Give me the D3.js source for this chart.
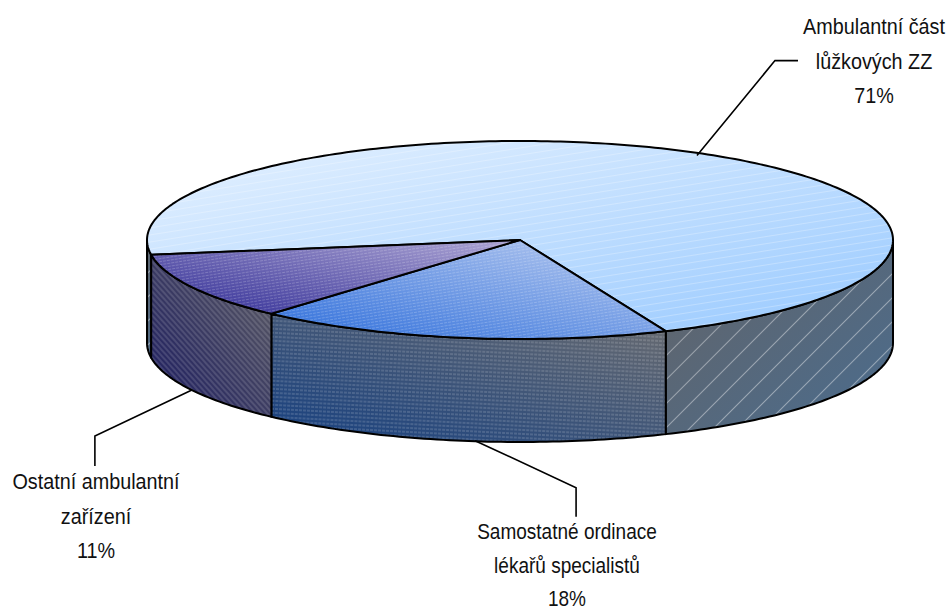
<!DOCTYPE html>
<meta charset='utf-8'>
<title>Ambulantní péče</title>
<style>
  html, body { margin: 0; background: #fff; }
  svg { display: block; }
  text { font-family: 'Liberation Sans', Arial, sans-serif; font-size: 22px; fill: #111; text-anchor: middle; }
  .edge { stroke: #000; stroke-width: 2px; stroke-linejoin: round; fill: none; }
  .leader { stroke: #000; stroke-width: 1.6px; fill: none; }
</style>
<body>
<script src='https://cdn.jsdelivr.net/npm/d3@7'></script>
<script>

  var categories = ['Ambulantní část lůžkových ZZ', 'Samostatné ordinace lékařů specialistů', 'Ostatní ambulantní zařízení']
  var values = [71, 18, 11]
  var labelLines = [
    ['Ambulantní část', 'lůžkových ZZ', '71%'],
    ['Samostatné ordinace', 'lékařů specialistů', '18%'],
    ['Ostatní ambulantní', 'zařízení', '11%']
  ]

  var width = 951, height = 609
  var cx = 520, cy = 240, rx = 373, ry = 99, depth = 103
  var rad = Math.PI / 180
  var rotation = 261.4

  // leader start, elbow and end, relative to the slice's mid point on the rim
  var layout = [
    { start: [-5, 2], bend: [73, -93], end: [96, -93], text: [874, 34], lead: 34.5, squeeze: 0.9, up: true },
    { start: [16, 0], bend: [117, 47], end: [117, 76], text: [567, 539], lead: 33.5, squeeze: 0.865, up: false },
    { start: [0, 0], bend: [-97, 46], end: [-97, 76], text: [96, 489], lead: 34.5, squeeze: 0.9, up: false }
  ]

  var svg = d3.select('body').append('svg').attr('width', width).attr('height', height)
  var defs = svg.append('defs')

  function gradient(id, x1, y1, x2, y2, c1, c2) {
    var g = defs.append('linearGradient').attr('id', id)
      .attr('x1', x1).attr('y1', y1).attr('x2', x2).attr('y2', y2)
    g.append('stop').attr('offset', 0).attr('stop-color', c1)
    g.append('stop').attr('offset', 1).attr('stop-color', c2)
  }

  gradient('top0', 0, 0, 1, 1, '#e6f2ff', '#98c9ff')
  gradient('top1', 0, 1, 1, 0, '#2c6ddb', '#bccdf0')
  gradient('top2', 0, 1, 1, 0, '#2f2b95', '#aea6d4')
  gradient('wall0', 0, 0, 1, 1, '#636468', '#4a6c8e')
  gradient('wall1', 1, 0, 0, 1, '#6a6c70', '#153f80')
  gradient('wall2', 1, 0, 0, 1, '#5e5e64', '#1a1a60')

  function hatch(id, step, angle, op, dash) {
    var p = defs.append('pattern').attr('id', id).attr('patternUnits', 'userSpaceOnUse')
      .attr('width', 12).attr('height', step).attr('patternTransform', 'rotate(' + angle + ')')
    p.append('line').attr('x1', 0).attr('x2', 12).attr('y1', step / 2).attr('y2', step / 2)
      .attr('stroke', '#fff').attr('stroke-width', 1).attr('stroke-opacity', op)
      .attr('stroke-dasharray', dash)
  }

  hatch('hTop0', 7, -9, 0.26, null)
  hatch('hTop1', 3, -9, 0.2, '3 1')
  hatch('hTop2', 3, -9, 0.2, '3 1')
  hatch('hWall0', 17, -45, 0.4, null)
  hatch('hWall1', 4, 3, 0.28, '3 1')
  hatch('hWall2', 4, 48, 0.26, null)

  var pie = d3.pie().sort(null).startAngle(rotation * rad).endAngle((rotation + 360) * rad)
  var slices = pie(values)

  var line = d3.line()

  function rim(a, drop) {
    return [cx + rx * Math.sin(a), cy - ry * Math.cos(a) + (drop || 0)]
  }

  function samples(a0, a1) {
    var n = Math.max(2, Math.ceil((a1 - a0) / rad))
    return d3.range(n + 1).map(function(i) { return a0 + (a1 - a0) * i / n })
  }

  function topPath(d) {
    return line([[cx, cy]].concat(samples(d.startAngle, d.endAngle).map(function(a) { return rim(a) }))) + 'Z'
  }

  // only the part of the rim facing the viewer gets a wall
  function wallParts(d) {
    var parts = []
    ;[[90, 270], [450, 630]].forEach(function(f) {
      var a0 = Math.max(d.startAngle, f[0] * rad), a1 = Math.min(d.endAngle, f[1] * rad)
      if (a1 > a0) parts.push([a0, a1])
    })
    return parts
  }

  function wallPath(p) {
    var as = samples(p[0], p[1])
    return line(as.map(function(a) { return rim(a) })
      .concat(as.slice().reverse().map(function(a) { return rim(a, depth) }))) + 'Z'
  }

  /* ------- WALLS -------*/
  var walls = svg.append('g')
  slices.forEach(function(d) {
    wallParts(d).forEach(function(p) {
      var path = wallPath(p)
      walls.append('path').attr('d', path).attr('fill', 'url(#wall' + d.index + ')')
      walls.append('path').attr('d', path).attr('fill', 'url(#hWall' + d.index + ')')
      walls.append('path').attr('d', path).attr('class', 'edge')
    })
  })

  /* ------- TOP -------*/
  var tops = svg.append('g')
  slices.forEach(function(d) {
    var path = topPath(d)
    tops.append('path').attr('d', path).attr('fill', 'url(#top' + d.index + ')')
    tops.append('path').attr('d', path).attr('fill', 'url(#hTop' + d.index + ')')
    tops.append('path').attr('d', path).attr('class', 'edge')
  })

  /* ------- LEADERS AND LABELS -------*/
  slices.forEach(function(d, i) {
    var mid = (d.startAngle + d.endAngle) / 2
    var l = layout[i]
    var p = rim(mid, l.up ? 0 : depth)
    svg.append('path').attr('class', 'leader').attr('d', line([
      [p[0] + l.start[0], p[1] + l.start[1]],
      [p[0] + l.bend[0], p[1] + l.bend[1]],
      [p[0] + l.end[0], p[1] + l.end[1]]
    ]))
    labelLines[i].forEach(function(t, j) {
      svg.append('text')
        .attr('transform', 'translate(' + l.text[0] + ',' + (l.text[1] + j * l.lead) + ') scale(' + l.squeeze + ',1)')
        .text(t)
    })
  })

</script>
</body>
